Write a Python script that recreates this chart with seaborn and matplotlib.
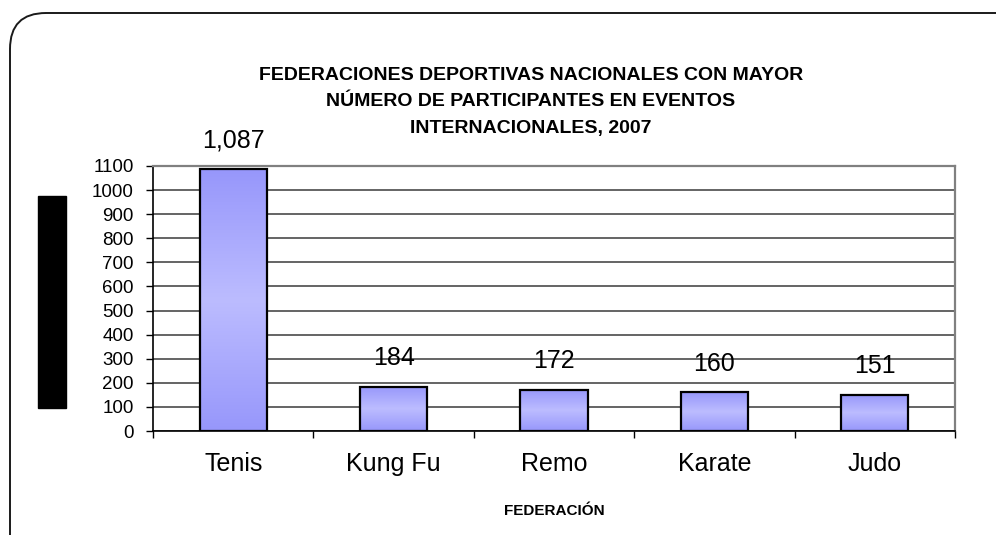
import numpy as np
import pandas as pd
import seaborn as sns
import matplotlib.pyplot as plt
from matplotlib.patches import FancyBboxPatch, Rectangle
from matplotlib.colors import LinearSegmentedColormap
from matplotlib.transforms import IdentityTransform

# data
federaciones = ["Tenis", "Kung Fu", "Remo", "Karate", "Judo"]
participantes = [1087, 184, 172, 160, 151]
etiquetas = ["1,087", "184", "172", "160", "151"]
y_ticks = list(range(0, 1101, 100))
titulo = ("FEDERACIONES DEPORTIVAS NACIONALES CON MAYOR\n"
          "NÚMERO DE PARTICIPANTES EN EVENTOS\n"
          "INTERNACIONALES, 2007")
x_titulo = "FEDERACIÓN"

sns.set_theme(style="white")
plt.rcParams['font.family'] = ['Liberation Sans', 'DejaVu Sans']

W, H = 996, 535
fig = plt.figure(figsize=(W / 100, H / 100), dpi=100)
ax = fig.add_axes([153 / W, 1 - 431 / H, (955 - 153) / W, (431 - 166) / H])

df = pd.DataFrame({"federacion": federaciones, "participantes": participantes})
sns.barplot(data=df, x="federacion", y="participantes", ax=ax, width=0.42,
            color="#aaaaff", saturation=1, edgecolor="black", linewidth=1.6)

# vertical gradient fill inside each bar
grad = LinearSegmentedColormap.from_list("g", ["#9797fb", "#bcbcff", "#9797fb"])
for bar in ax.patches:
    x0, y0 = bar.get_x(), bar.get_y()
    w, h = bar.get_width(), bar.get_height()
    ax.imshow(np.linspace(0, 1, 200).reshape(-1, 1), cmap=grad, aspect="auto",
              extent=[x0, x0 + w, y0, y0 + h], origin="lower", zorder=1.5)
    bar.set_facecolor("none")
    bar.set_zorder(2)

ax.set_xlim(-0.5, 4.5)
ax.set_ylim(0, 1100)
ax.set_yticks(y_ticks)
ax.set_xticks(np.arange(-0.5, 5, 1), minor=True)
ax.set_axisbelow(True)
ax.yaxis.grid(True, color="#3a3a3a", linewidth=1.1)
ax.xaxis.grid(False)

for s in ["left", "bottom"]:
    ax.spines[s].set_color("black")
    ax.spines[s].set_linewidth(1.2)
for s in ["top", "right"]:
    ax.spines[s].set_color("#808080")
    ax.spines[s].set_linewidth(1.6)

ax.tick_params(axis="y", which="major", left=True, direction="out", length=5,
               width=1, color="black", pad=9, labelsize=13.5, labelcolor="black")
ax.tick_params(axis="x", which="major", bottom=True, length=0, pad=15,
               labelsize=18, labelcolor="black")
ax.tick_params(axis="x", which="minor", bottom=True, direction="out", length=5,
               width=1, color="black")
ax.set_xlabel("")
ax.set_ylabel("")

for i, (v, t) in enumerate(zip(participantes, etiquetas)):
    ax.annotate(t, (i, v), xytext=(0, 12), textcoords="offset points",
                ha="center", va="bottom", fontsize=18, color="black")

fig.text(531 / W, 1 - 67 / H, titulo, ha="center", va="top", fontsize=14,
         weight="bold", linespacing=1.72, color="black")
fig.text(554 / W, 1 - 511 / H, x_titulo, ha="center", va="center", fontsize=11,
         weight="bold", color="black")

# redacted y-axis label block
fig.add_artist(Rectangle((38 / W, 1 - 408 / H), 28 / W, 212 / H,
                         transform=fig.transFigure, color="black"))

# rounded frame around the chart
fig.add_artist(FancyBboxPatch((10, -40), 1030, 522 + 40, transform=IdentityTransform(),
                              boxstyle="round,pad=0,rounding_size=36",
                              facecolor="none", edgecolor="#1a1a1a", linewidth=1.4))

fig.savefig("out.png", dpi=100)
